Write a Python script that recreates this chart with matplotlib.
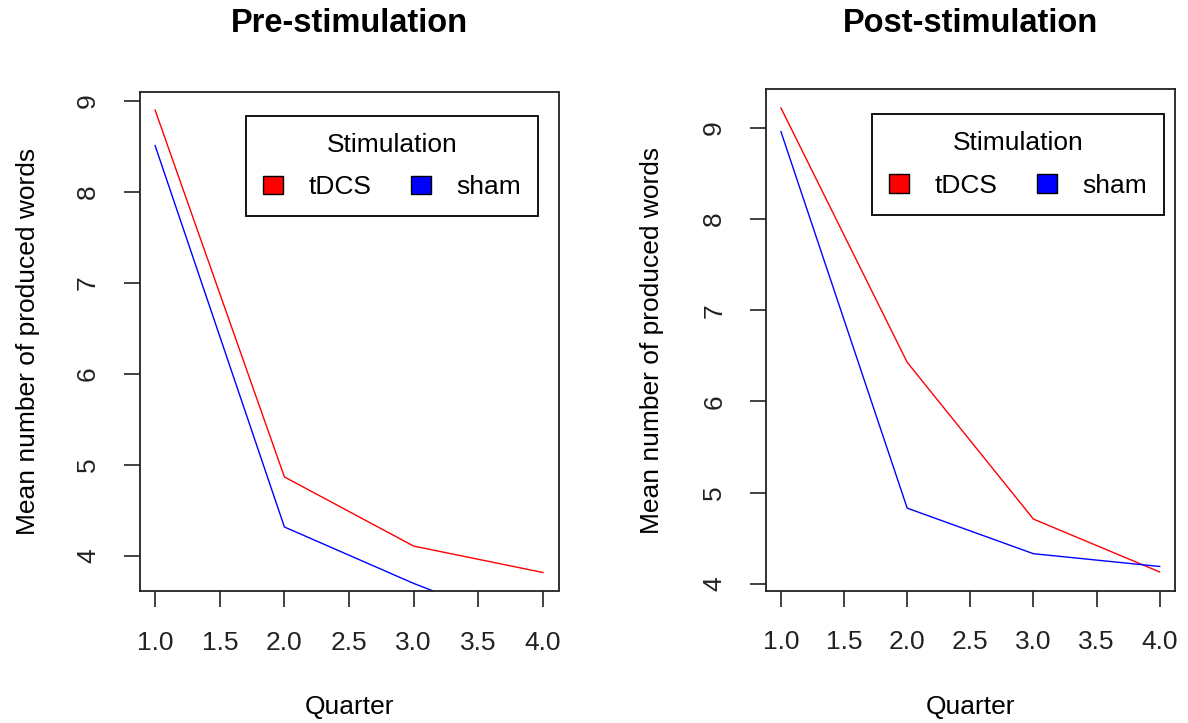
import matplotlib
matplotlib.use("Agg")
import matplotlib.pyplot as plt
from matplotlib.patches import Patch

plt.rcParams['font.family'] = ['Liberation Sans', 'DejaVu Sans']

quarters = [1, 2, 3, 4]
pre_tdcs = [8.90, 4.87, 4.11, 3.82]
pre_sham = [8.51, 4.32, 3.70, 3.15]
post_tdcs = [9.22, 6.43, 4.71, 4.13]
post_sham = [8.96, 4.83, 4.33, 4.19]

W, H = 1188, 723
FS = 19


def fx(px):
    return px / W


def fy(py):
    return 1 - py / H


def r_range(vals):
    # base-R style axis range: data range padded by 4% on each side
    lo, hi = min(vals), max(vals)
    pad = 0.04 * (hi - lo)
    return lo - pad, hi + pad


def panel(box, title, tdcs, sham, ylab_x, legend_cx, legend_top):
    x0, y0, x1, y1 = box
    ax = fig.add_axes([fx(x0), fy(y1), fx(x1 - x0), (y1 - y0) / H])
    ax.plot(quarters, tdcs, color='#ff0000', lw=1.0)
    ax.plot(quarters, sham, color='#0000ff', lw=1.0)
    ax.set_xlim(r_range(quarters))
    ax.set_ylim(r_range(tdcs))
    ax.set_xticks([1.0, 1.5, 2.0, 2.5, 3.0, 3.5, 4.0])
    ax.set_xticklabels(['1.0', '1.5', '2.0', '2.5', '3.0', '3.5', '4.0'])
    ax.set_yticks([4, 5, 6, 7, 8, 9])
    ax.tick_params(length=11.5, width=1.2, pad=17, labelsize=FS, colors='#222222')
    plt.setp(ax.get_yticklabels(), rotation=90, va='center')
    for s in ax.spines.values():
        s.set_linewidth(1.3)
        s.set_color('#222222')

    cx = (x0 + x1) / 2
    fig.text(fx(cx), fy(23.5), title, fontsize=23.5, fontweight='bold',
             ha='center', va='center')
    fig.text(fx(cx), fy(707), 'Quarter', fontsize=FS, ha='center', va='center')
    fig.text(fx(ylab_x), fy((y0 + y1) / 2), 'Mean number of produced words',
             fontsize=FS, rotation=90, ha='center', va='center')

    handles = [Patch(facecolor='#ff0000', edgecolor='black', lw=1.0),
               Patch(facecolor='#0000ff', edgecolor='black', lw=1.0)]
    leg = ax.legend(handles, ['tDCS', 'sham'], title='Stimulation', ncol=2,
                    loc='upper center', bbox_to_anchor=(fx(legend_cx), fy(legend_top)),
                    bbox_transform=fig.transFigure, borderaxespad=0,
                    fontsize=FS, title_fontsize=FS, fancybox=False,
                    edgecolor='black', framealpha=1, borderpad=0.65,
                    labelspacing=0.7, handlelength=0.78, handleheight=0.7,
                    handletextpad=0.95, columnspacing=1.5)
    leg.get_frame().set_linewidth(1.3)
    return ax


fig = plt.figure(figsize=(W / 100, H / 100), dpi=100)

panel((139.6, 91.6, 558.5, 591.0), 'Pre-stimulation', pre_tdcs, pre_sham,
      28, 392, 115.6)
panel((765.8, 89.4, 1174.8, 590.5), 'Post-stimulation', post_tdcs, post_sham,
      652, 1018, 114)

fig.savefig('out.png', dpi=100)
